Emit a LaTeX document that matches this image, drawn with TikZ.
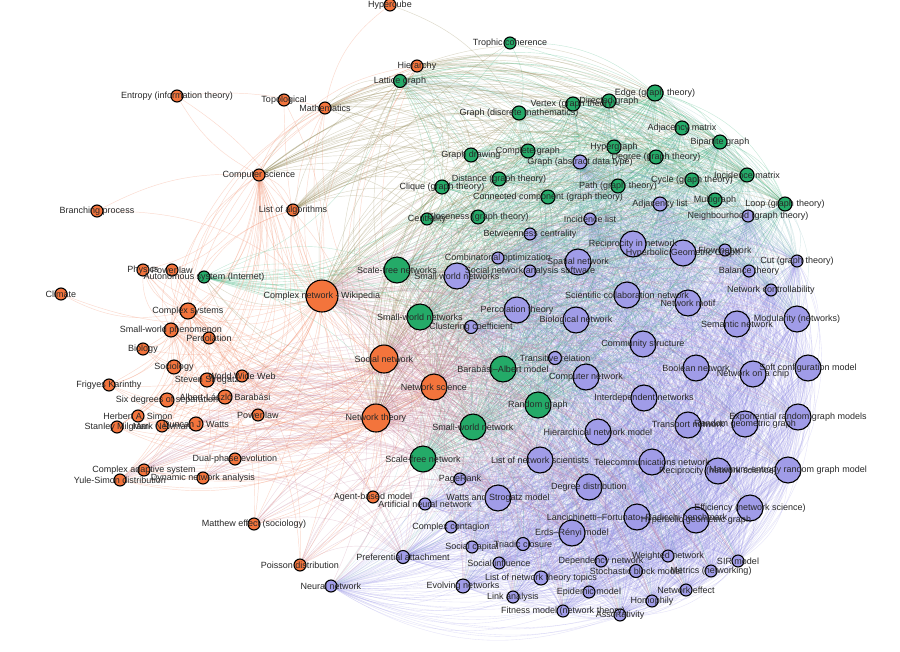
\documentclass[tikz,border=0pt]{standalone}
\usepackage{fontspec}
\setmainfont{Liberation Sans}
\definecolor{nodeo}{RGB}{243,116,60}
\definecolor{nodeg}{RGB}{36,170,104}
\definecolor{nodep}{RGB}{160,156,232}
\definecolor{edgeo}{RGB}{244,140,105}
\definecolor{edgeg}{RGB}{60,180,125}
\definecolor{edgep}{RGB}{140,135,230}
\definecolor{edgeog}{RGB}{150,140,90}
\definecolor{edgeop}{RGB}{195,120,150}
\definecolor{edgegp}{RGB}{90,165,165}
\definecolor{lblc}{RGB}{40,40,40}
\pgfdeclarelayer{bg}
\pgfdeclarelayer{edgel}
\pgfdeclarelayer{lbll}
\pgfsetlayers{bg,edgel,main,lbll}
\def\NL{%
hyper/390/5/12/o/Hypercube,
hier/417/66/12/o/Hierarchy,
entropy/177/96/12/o/Entropy (information theory),
topo/284/100/12/o/Topological,
math/325/108/12/o/Mathematics,
compsci/259/175/12/o/Computer science,
algo/293/210/12/o/List of algorithms,
branch/97/211/12/o/Branching process,
physics/143/270/12/o/Physics,
plaw/172/270/12/o/Power law,
climate/61/294/12/o/Climate,
cxsys/188/311/16/o/Complex systems,
swphen/171/330/14/o/Small-world phenomenon,
perco/209/338/12/o/Percolation,
bio/143/349/12/o/Biology,
socio/174/367/14/o/Sociology,
strogatz/207/380/14/o/Steven Strogatz,
www/242/376/12/o/World Wide Web,
karinthy/109/385/12/o/Frigyes Karinthy,
sixdeg/167/400/14/o/Six degrees of separation,
barabasi/225/397/14/o/Albert-László Barabási,
simon/138/416/12/o/Herbert A. Simon,
milgram/117/427/12/o/Stanley Milgram,
newman/162/426/12/o/Mark Newman,
watts/196/424/14/o/Duncan J. Watts,
plaw2/258/415/12/o/Power law,
dualphase/235/459/12/o/Dual-phase evolution,
cas/144/470/12/o/Complex adaptive system,
yule/120/480/12/o/Yule-Simon distribution,
dna/203/478/12/o/Dynamic network analysis,
matthew/254/524/12/o/Matthew effect (sociology),
poisson/300/565/12/o/Poisson distribution,
abm/373/497/12/o/Agent-based model,
cnw/322/296/32/o/Complex network - Wikipedia,
socnet/384/359/28/o/Social network,
netsci/434/387/26/o/Network science,
netth/376/418/28/o/Network theory,
trophic/510/43/12/g/Trophic coherence,
lattice/400/81/13/g/Lattice graph,
edge/655/93/16/g/Edge (graph theory),
vertex/573/104/14/g/Vertex (graph theory),
digraph/609/101/14/g/Directed graph,
graphdm/519/113/14/g/Graph (discrete mathematics),
adjmat/682/128/14/g/Adjacency matrix,
bipart/720/142/14/g/Bipartite graph,
gdraw/471/155/14/g/Graph drawing,
complete/528/151/14/g/Complete graph,
hypergraph/614/147/14/g/Hypergraph,
degree/656/157/14/g/Degree (graph theory),
distance/499/179/14/g/Distance (graph theory),
clique/442/187/14/g/Clique (graph theory),
path/618/186/14/g/Path (graph theory),
cycle/692/180/14/g/Cycle (graph theory),
incmat/747/175/14/g/Incidence matrix,
conncomp/548/197/14/g/Connected component (graph theory),
multigraph/715/200/14/g/Multigraph,
loop/785/204/14/g/Loop (graph theory),
centrality/427/219/12/g/Centrality,
closeness/478/217/14/g/Closeness (graph theory),
autosys/204/277/12/g/Autonomous system (Internet),
sfnets/397/270/26/g/Scale-free networks,
swnets/420/317/26/g/Small-world networks,
ba/503/369/26/g/Barabási–Albert model,
randgraph/538/405/26/g/Random graph,
swnet/473/427/26/g/Small-world network,
sfnet/423/459/26/g/Scale-free network,
incl/590/219/12/p/Incidence list,
adjlist/660/204/14/p/Adjacency list,
neigh/748/216/12/p/Neighbourhood (graph theory),
gadt/580/162/14/p/Graph (abstract data type),
betw/530/234/12/p/Betweenness centrality,
combopt/498/258/12/p/Combinatorial optimization,
snas/530/271/12/p/Social network analysis software,
swnetsP/457/276/26/p/Small world networks,
spatial/578/262/26/p/Spatial network,
recip/633/244/26/p/Reciprocity in network,
hyperGG/683/253/26/p/Hyperbolic Geometric Graph,
flow/725/250/12/p/Flow network,
cut/797/261/12/p/Cut (graph theory),
balance/749/271/12/p/Balance theory,
controll/771/290/12/p/Network controllability,
scicollab/627/295/26/p/Scientific collaboration network,
motif/688/303/26/p/Network motif,
percth/517/310/26/p/Percolation theory,
bionet/576/320/26/p/Biological network,
clustco/471/327/13/p/Clustering coefficient,
semantic/737/324/26/p/Semantic network,
modul/797/319/26/p/Modularity (networks),
community/643/344/26/p/Community structure,
transrel/555/358/13/p/Transitive relation,
compnet/586/377/26/p/Computer network,
boolean/696/368/26/p/Boolean network,
noc/753/374/26/p/Network on a chip,
softconf/808/368/26/p/Soft configuration model,
interdep/644/398/26/p/Interdependent networks,
transport/688/425/26/p/Transport network,
rgg/745/424/26/p/Random geometric graph,
ergm/798/417/26/p/Exponential random graph models,
hierarch/598/432/26/p/Hierarchical network model,
listsci/540/460/26/p/List of network scientists,
telecom/652/462/26/p/Telecommunications network,
pagerank/460/479/12/p/PageRank,
degdist/589/487/26/p/Degree distribution,
recipns/718/471/26/p/Reciprocity (network science),
maxent/788/470/26/p/Maximum-entropy random graph model,
wsmodel/498/498/26/p/Watts and Strogatz model,
ann/425/504/12/p/Artificial neural network,
efficiency/750/508/26/p/Efficiency (network science),
lfr/637/517/26/p/Lancichinetti–Fortunato–Radicchi benchmark,
hgg/696/520/26/p/Hyperbolic geometric graph,
cxcont/451/527/12/p/Complex contagion,
er/572/533/26/p/Erds–Rényi model,
soccap/472/547/12/p/Social capital,
triadic/523/544/13/p/Triadic closure,
prefatt/403/557/13/p/Preferential attachment,
socinf/499/563/12/p/Social influence,
depnet/601/561/12/p/Dependency network,
sbm/636/571/13/p/Stochastic block model,
weighted/668/556/12/p/Weighted network,
sir/738/561/12/p/SIR model,
metrics/711/571/12/p/Metrics (networking),
listtopics/541/578/14/p/List of network theory topics,
evolving/463/586/14/p/Evolving networks,
epidemic/589/592/12/p/Epidemic model,
neteffect/686/590/12/p/Network effect,
homophily/652/601/12/p/Homophily,
linkan/513/597/12/p/Link analysis,
fitness/563/611/12/p/Fitness model (network theory),
assort/620/615/12/p/Assortativity,
neural/331/586/12/p/Neural network}
\def\Pall{incl,adjlist,neigh,gadt,betw,combopt,snas,swnetsP,spatial,recip,hyperGG,flow,cut,balance,controll,scicollab,motif,percth,bionet,clustco,semantic,modul,community,transrel,compnet,boolean,noc,softconf,interdep,transport,rgg,ergm,hierarch,listsci,telecom,pagerank,degdist,recipns,maxent,wsmodel,ann,efficiency,lfr,hgg,cxcont,er,soccap,triadic,prefatt,socinf,depnet,sbm,weighted,sir,metrics,listtopics,evolving,epidemic,neteffect,homophily,linkan,fitness,assort,neural}
\def\Ptop{incl,adjlist,neigh,gadt,betw,combopt,snas,swnetsP,spatial,recip,hyperGG,flow,cut,balance,controll,scicollab,motif,percth,clustco,community,modul}
\def\Gall{lattice,edge,vertex,digraph,graphdm,adjmat,bipart,gdraw,complete,hypergraph,degree,distance,clique,path,cycle,incmat,conncomp,multigraph,loop,centrality,closeness,autosys,sfnets,swnets,ba,randgraph,swnet,sfnet}
\def\Gth{lattice,edge,vertex,digraph,graphdm,adjmat,bipart,gdraw,complete,hypergraph,degree,distance,clique,path,cycle,incmat,conncomp,multigraph,loop,centrality,closeness}
\def\Gbig{sfnets,swnets,ba,randgraph,swnet,sfnet}
\def\Ohub{cnw,socnet,netsci,netth}
\def\Osmall{hier,math,compsci,algo,physics,plaw,cxsys,swphen,perco,bio,socio,strogatz,www,karinthy,sixdeg,barabasi,simon,milgram,newman,watts,plaw2,dualphase,cas,yule,dna,matthew,poisson,abm}
\begin{document}
\begin{tikzpicture}[x=1pt,y=-1pt,
  nd/.style={circle,draw=black,line width=1.1pt,inner sep=0pt},
  lbl/.style={font=\fontsize{9}{10}\selectfont,text=lblc,inner sep=0pt},
  ep/.style={draw=edgep,line width=0.35pt,draw opacity=0.24},
  eg/.style={draw=edgeg,line width=0.4pt,draw opacity=0.3},
  egp/.style={draw=edgegp,line width=0.35pt,draw opacity=0.22},
  eo/.style={draw=edgeo,line width=0.45pt,draw opacity=0.32},
  eog/.style={draw=edgeog,line width=0.45pt,draw opacity=0.32},
  eop/.style={draw=edgeop,line width=0.4pt,draw opacity=0.28},
  bl/.style={bend left=26}]
\useasboundingbox (0,0) rectangle (900,651);
\begin{pgfonlayer}{bg}
\fill[white] (0,0) rectangle (900,651);
\end{pgfonlayer}
% nodes
\foreach \nm/\xx/\yy/\dd/\cc/\lab in \NL {
  \node[nd,fill=node\cc,minimum size=\dd pt] (\nm) at (\xx,\yy) {};
}
% connectors
\begin{pgfonlayer}{edgel}
\foreach \a [count=\i] in \Pall {
  \foreach \b [count=\j] in \Pall {
    \ifnum\j>\i \draw[ep] (\a) to[bl] (\b); \fi
  }
}
\foreach \a [count=\i] in \Gall {
  \foreach \b [count=\j] in \Gall {
    \ifnum\j>\i \draw[eg] (\a) to[bl] (\b); \fi
  }
}
\foreach \a in \Gbig { \foreach \b in \Pall { \draw[egp] (\a) to[bl] (\b); } }
\foreach \a in \Gth { \foreach \b in \Ptop { \draw[egp] (\a) to[bl] (\b); } }
\foreach \a in \Ohub { \foreach \b in \Osmall { \draw[eo] (\a) to[bl] (\b); } }
\foreach \a in {cxsys,swphen,compsci} { \foreach \b in \Osmall { \draw[eo] (\a) to[bl] (\b); } }
\draw[eo] (cnw) to[bl] (socnet);
\draw[eo] (cnw) to[bl] (netsci);
\draw[eo] (cnw) to[bl] (netth);
\draw[eo] (socnet) to[bl] (netsci);
\draw[eo] (socnet) to[bl] (netth);
\draw[eo] (netsci) to[bl] (netth);
% peripheral nodes with few connectors
\draw[eo] (hyper) to[bend right=20] (math);
\draw[eog] (hyper) to[bend left=20] (graphdm);
\draw[eo] (entropy) to[bend left=20] (cnw);
\draw[eo] (entropy) to[bend right=15] (compsci);
\draw[eo] (entropy) to[bend left=10] (math);
\draw[eo] (branch) to[bend left=20] (cnw);
\draw[eo] (branch) to[bend left=15] (compsci);
\draw[eo] (climate) to[bend right=20] (cnw);
\draw[eo] (climate) to[bend right=20] (cxsys);
\draw[eo] (topo) to[bend left=15] (cnw);
\draw[eo] (topo) to[bend right=15] (netth);
\draw[eg] (trophic) to[bend left=20] (graphdm);
\draw[eg] (trophic) to[bend left=20] (edge);
\draw[eg] (trophic) to[bend right=15] (sfnets);
\draw[eg] (trophic) to[bend left=15] (loop);
\draw[eog] (trophic) to[bend right=20] (cnw);
\foreach \a in \Ohub { \foreach \b in \Gall { \draw[eog] (\a) to[bl] (\b); } }
\foreach \a in \Ohub { \foreach \b in \Pall { \draw[eop] (\a) to[bl] (\b); } }
\foreach \a in {math,compsci,hier,algo} { \foreach \b in \Gth { \draw[eog] (\a) to[bl] (\b); } }
\foreach \a in {barabasi,watts,strogatz,www,dna,abm,poisson,matthew,yule,cas,dualphase,plaw2} {
  \foreach \b in {listsci,wsmodel,degdist,er,prefatt,sfnet,swnet,ba,randgraph} { \draw[eop] (\a) to[bl] (\b); }
}
\end{pgfonlayer}
% labels
\begin{pgfonlayer}{lbll}
\foreach \nm/\xx/\yy/\dd/\cc/\lab in \NL {
  \node[lbl] (\nm-l) at (\nm) {\lab};
}
\end{pgfonlayer}
\end{tikzpicture}
\end{document}
